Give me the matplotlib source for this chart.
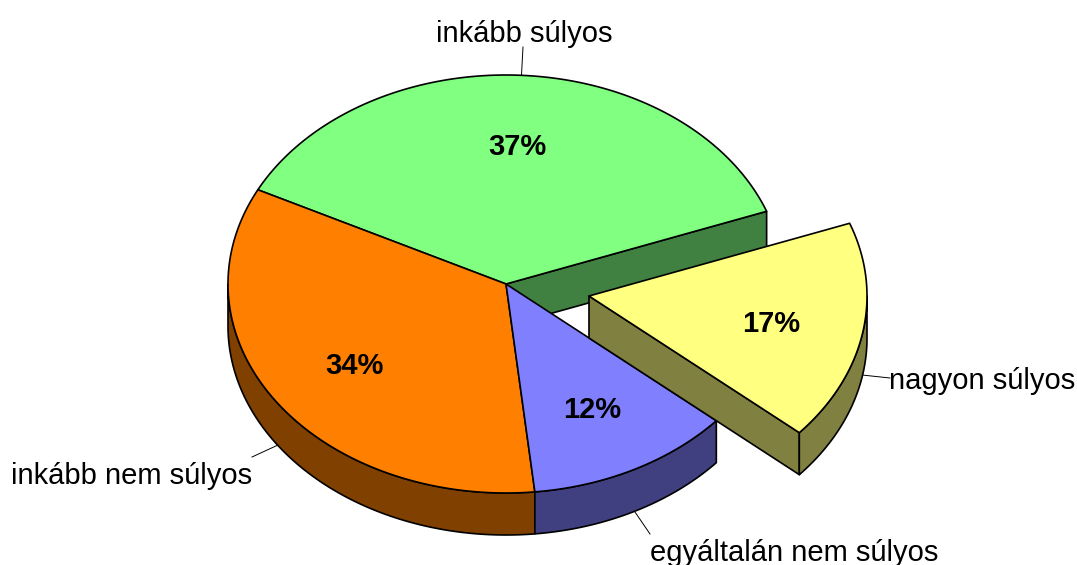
import numpy as np
from matplotlib import pyplot as plt
from matplotlib.patches import Polygon

plt.rcParams['font.family'] = ['Liberation Sans', 'DejaVu Sans']

labels = ['inkább súlyos', 'inkább nem súlyos', 'egyáltalán nem súlyos', 'nagyon súlyos']
values = [36.9, 34.1, 12.0, 17.0]
top_colors = ['#80ff80', '#ff8000', '#8080ff', '#ffff80']
side_colors = ['#408040', '#804000', '#404080', '#808040']

cx, cy = 506, 284  # pie centre in pixels
rx, ry = 278, 209  # ellipse radii
depth = 42
start = 153.2  # boundary between the green and orange slices
explode = [(0, 0), (0, 0), (0, 0), (83, 12)]
show_wall = [True, False, False, True]  # cut face seen by the viewer

# label text positions and leader lines
label_pos = [(524, 34), (132, 476), (794, 553), (982, 381)]
leaders = [((523, 47), (521.5, 75)), ((252, 457), (278, 445)),
           ((650, 534), (635, 512)), ((890, 378), (862, 375))]
pct_pos = [(517, 147), (354, 366), (592, 410), (771, 324)]


def rim(a0, a1, dx, dy, drop=0):
    t = np.radians(np.linspace(a0, a1, 200))
    return np.column_stack([cx + dx + rx * np.cos(t), cy + dy + drop - ry * np.sin(t)])


def draw_slice(ax, a0, a1, dx, dy, top, side, wall, z):
    apex = np.array([cx + dx, cy + dy])
    style = dict(edgecolor='black', linewidth=1.2, joinstyle='round')
    if wall:
        p = rim(a0, a0, dx, dy)[0]
        face = [apex, p, p + (0, depth), apex + (0, depth)]
        ax.add_patch(Polygon(face, facecolor=side, zorder=z, **style))
    # outer curved side, only the part facing the viewer (180..360 degrees)
    for k in (0, 1):
        lo, hi = max(a0, 180 + 360 * k), min(a1, 360 + 360 * k)
        if lo < hi:
            upper = rim(lo, hi, dx, dy)
            lower = rim(hi, lo, dx, dy, depth)
            ax.add_patch(Polygon(np.vstack([upper, lower]), facecolor=side, zorder=z + 1, **style))
    outline = np.vstack([apex, rim(a0, a1, dx, dy)])
    ax.add_patch(Polygon(outline, facecolor=top, zorder=z + 2, **style))


fig = plt.figure(figsize=(10.77, 5.65), dpi=100)
ax = fig.add_axes([0, 0, 1, 1])
ax.set_xlim(0, 1077)
ax.set_ylim(565, 0)
ax.axis('off')

zorders = [2, 10, 14, 20]
a = start
for i, v in enumerate(values):
    sweep = v * 3.6
    if i == 0:  # green sits clockwise of the start angle
        s, e = a - sweep, a
    else:
        s, e = a, a + sweep
        a = e
    draw_slice(ax, s, e, explode[i][0], explode[i][1], top_colors[i], side_colors[i],
               show_wall[i], zorders[i])

for i, lab in enumerate(labels):
    ax.text(label_pos[i][0], label_pos[i][1], lab, fontsize=21, ha='center', va='center', zorder=40)
    (x0, y0), (x1, y1) = leaders[i]
    ax.plot([x0, x1], [y0, y1], color='black', lw=0.7, zorder=1)
    ax.text(pct_pos[i][0], pct_pos[i][1], f'{values[i]:.0f}%', fontsize=21, fontweight='bold',
            ha='center', va='center', zorder=40)

fig.savefig('out.png', dpi=100)
